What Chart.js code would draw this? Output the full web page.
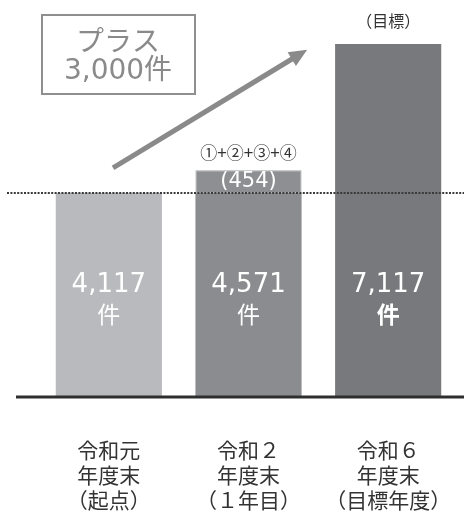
<!DOCTYPE html>
<html>
<head>
<meta charset="utf-8">
<script src="https://cdn.jsdelivr.net/npm/chart.js@4"></script>
<style>
  html, body { margin: 0; padding: 0; background: #fff; }
  #wrap { width: 464px; height: 513px; }
</style>
</head>
<body>
<div id="wrap"><canvas id="chart" width="464" height="513"></canvas></div>
<script>
// data
const categories = [
    ["令和元", "年度末", "（起点）"],
    ["令和２", "年度末", "（１年目）"],
    ["令和６", "年度末", "（目標年度）"]
];
const totals = [4117, 4571, 7117];
const baseValues = [4117, 4117, 7117];
const addedValues = [null, 454, null];
const valueLabels = ["4,117", "4,571", "7,117"];
const addedLabel = "(454)";
const addedNote = "①+②+③+④";
const targetNote = "（目標）";
const plusText = ["プラス", "3,000件"];

const NUM = '"DejaVu Sans", "Noto Sans CJK JP", sans-serif';
const JP = '"Noto Sans CJK JP", sans-serif';

function dotted(ctx, y) {
    ctx.save();
    ctx.strokeStyle = "#3a3a3a";
    ctx.lineWidth = 2;
    ctx.setLineDash([2, 1.4]);
    ctx.beginPath();
    ctx.moveTo(7, y);
    ctx.lineTo(464, y);
    ctx.stroke();
    ctx.restore();
}

const extras = {
    id: "extras",
    afterDatasetsDraw(chart) {
        const ctx = chart.ctx;
        const x = chart.scales.x;
        const y = chart.scales.y;
        const base = y.getPixelForValue(0);

        dotted(ctx, Math.round(y.getPixelForValue(totals[0])));

        ctx.save();
        // baseline
        ctx.strokeStyle = "#2e2e2e";
        ctx.lineWidth = 3;
        ctx.beginPath();
        ctx.moveTo(16, base);
        ctx.lineTo(464, base);
        ctx.stroke();

        // values inside bars
        ctx.fillStyle = "#fff";
        ctx.textAlign = "center";
        ctx.textBaseline = "middle";
        valueLabels.forEach((t, i) => {
            const cx = x.getPixelForValue(i);
            ctx.font = "26px " + NUM;
            ctx.fillText(t, cx, base - 112);
            ctx.font = (i === 2 ? "bold " : "") + "23px " + JP;
            ctx.fillText("件", cx, base - 83);
        });

        // added segment label
        const cx2 = x.getPixelForValue(1);
        const segMid = (y.getPixelForValue(totals[0]) + y.getPixelForValue(totals[1])) / 2;
        ctx.font = "21px " + NUM;
        ctx.fillText(addedLabel, cx2, segMid);
        ctx.fillStyle = "#333";
        ctx.font = "17px " + JP;
        ctx.fillText(addedNote, cx2, y.getPixelForValue(totals[1]) - 18);

        // target note
        ctx.font = "16px " + JP;
        ctx.fillText(targetNote, x.getPixelForValue(2), y.getPixelForValue(totals[2]) - 23);

        // arrow
        const x0 = x.getPixelForValue(0.03), y0 = y.getPixelForValue(4620);
        const x1 = x.getPixelForValue(1.42), y1 = y.getPixelForValue(7000);
        const ang = Math.atan2(y1 - y0, x1 - x0);
        ctx.strokeStyle = "#8a8a8a";
        ctx.fillStyle = "#8a8a8a";
        ctx.lineWidth = 5;
        ctx.beginPath();
        ctx.moveTo(x0, y0);
        ctx.lineTo(x1 - 12 * Math.cos(ang), y1 - 12 * Math.sin(ang));
        ctx.stroke();
        ctx.beginPath();
        ctx.moveTo(x1, y1);
        ctx.lineTo(x1 - 18 * Math.cos(ang) + 8 * Math.sin(ang), y1 - 18 * Math.sin(ang) - 8 * Math.cos(ang));
        ctx.lineTo(x1 - 18 * Math.cos(ang) - 8 * Math.sin(ang), y1 - 18 * Math.sin(ang) + 8 * Math.cos(ang));
        ctx.closePath();
        ctx.fill();

        // "plus 3,000" box
        ctx.strokeStyle = "#8f8f8f";
        ctx.lineWidth = 2;
        ctx.strokeRect(42, 15, 153, 79);
        ctx.fillStyle = "#8a8a8a";
        ctx.font = "28px " + JP;
        ctx.fillText(plusText[0], 118, 40);
        ctx.font = "28px " + NUM;
        ctx.fillText(plusText[1], 118, 72);
        ctx.restore();
    }
};

new Chart(document.getElementById("chart"), {
    type: "bar",
    data: {
        labels: categories,
        datasets: [
            {
                data: baseValues,
                backgroundColor: ["#b9babd", "#8b8c8f", "#78797c"],
                barPercentage: 0.76,
                categoryPercentage: 1
            },
            {
                data: addedValues,
                backgroundColor: "#8e8f92",
                borderColor: "#a3a4a6",
                borderWidth: 1,
                borderSkipped: "bottom",
                barPercentage: 0.76,
                categoryPercentage: 1
            }
        ]
    },
    options: {
        responsive: false,
        animation: false,
        layout: { padding: { left: 39, right: 6, top: 20, bottom: 0 } },
        plugins: { legend: { display: false }, tooltip: { enabled: false } },
        scales: {
            x: {
                stacked: true,
                grid: { display: false, drawTicks: false },
                border: { display: false },
                ticks: {
                    color: "#333",
                    padding: 40,
                    font: { family: JP, size: 21, lineHeight: 1.2 }
                },
                afterFit(scale) {
                    scale.height = 116;
                    scale.paddingLeft = 0;
                    scale.paddingRight = 0;
                }
            },
            y: {
                stacked: true,
                display: false,
                min: 0,
                max: 7600
            }
        }
    },
    plugins: [extras]
});
</script>
</body>
</html>
